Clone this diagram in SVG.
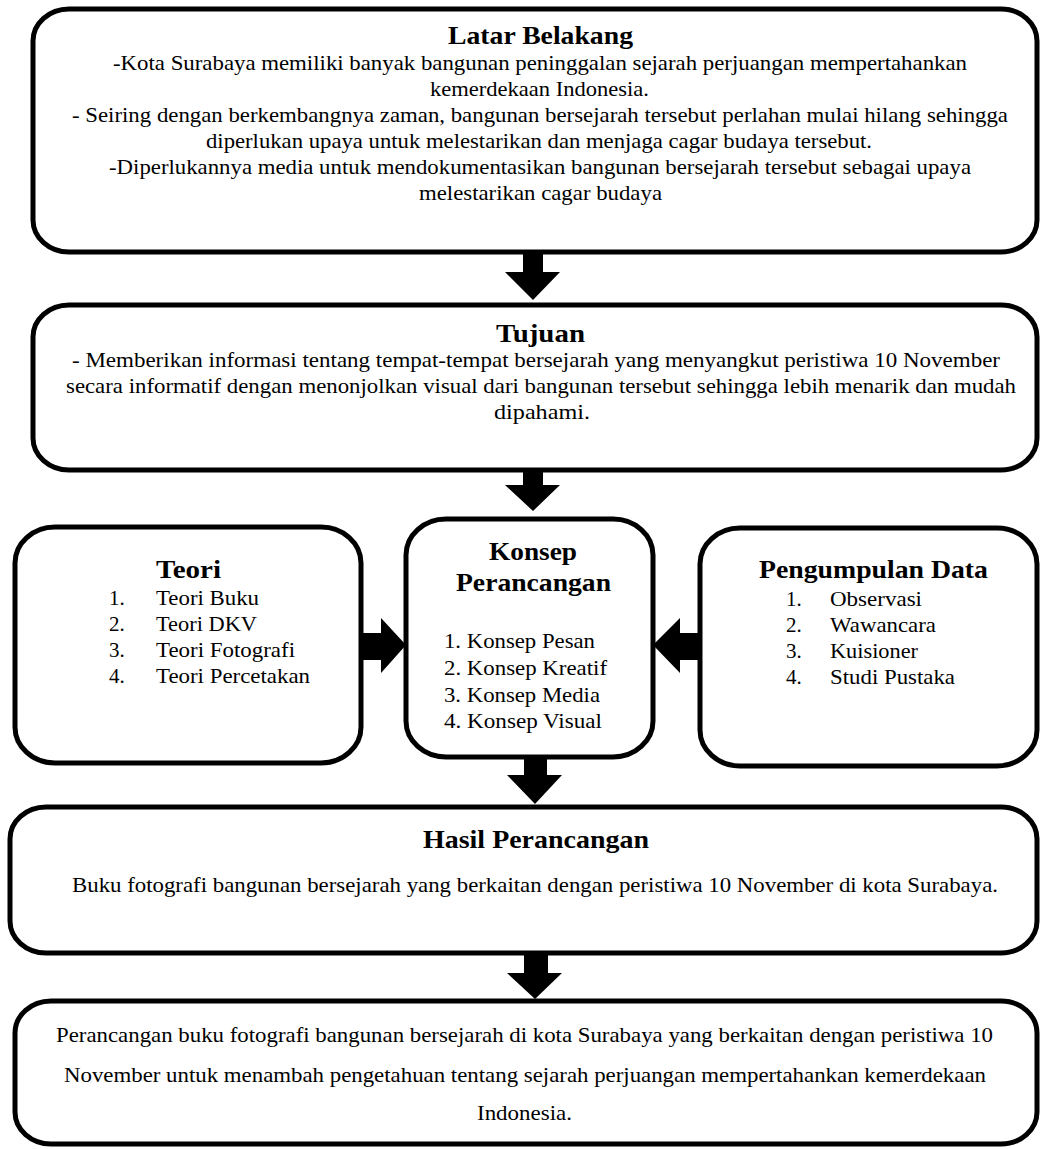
<svg xmlns="http://www.w3.org/2000/svg" width="1040" height="1149" viewBox="0 0 1040 1149">
<style>
.box{fill:#fff;stroke:#000;stroke-width:5}
.t{font-family:"Liberation Serif","Times New Roman",serif;font-size:21px;fill:#000}
.h{font-family:"Liberation Serif","Times New Roman",serif;font-size:26px;font-weight:bold;fill:#000}
.arr{fill:#000}
</style>
<rect width="1040" height="1149" fill="#fff"/>
<g id="latar">
<rect class="box" x="33" y="9" width="1004" height="243" rx="36" ry="32"/>
<text class="h" x="448" y="44" textLength="185" lengthAdjust="spacingAndGlyphs">Latar Belakang</text>
<text class="t" x="113" y="70" textLength="854" lengthAdjust="spacingAndGlyphs">-Kota Surabaya memiliki banyak bangunan peninggalan sejarah perjuangan mempertahankan</text>
<text class="t" x="430" y="96" textLength="219" lengthAdjust="spacingAndGlyphs">kemerdekaan Indonesia.</text>
<text class="t" x="72" y="122" textLength="936" lengthAdjust="spacingAndGlyphs">- Seiring dengan berkembangnya zaman, bangunan bersejarah tersebut perlahan mulai hilang sehingga</text>
<text class="t" x="206" y="148" textLength="666" lengthAdjust="spacingAndGlyphs">diperlukan upaya untuk melestarikan dan menjaga cagar budaya tersebut.</text>
<text class="t" x="109" y="174" textLength="862" lengthAdjust="spacingAndGlyphs">-Diperlukannya media untuk mendokumentasikan bangunan bersejarah tersebut sebagai upaya</text>
<text class="t" x="419" y="200" textLength="243" lengthAdjust="spacingAndGlyphs">melestarikan cagar budaya</text>
</g>
<g id="tujuan">
<rect class="box" x="33" y="305" width="1004" height="165" rx="36" ry="32"/>
<text class="h" x="496" y="342" textLength="89" lengthAdjust="spacingAndGlyphs">Tujuan</text>
<text class="t" x="72" y="367" textLength="928" lengthAdjust="spacingAndGlyphs">- Memberikan informasi tentang tempat-tempat bersejarah yang menyangkut peristiwa 10 November</text>
<text class="t" x="66" y="393" textLength="950" lengthAdjust="spacingAndGlyphs">secara informatif dengan menonjolkan visual dari bangunan tersebut sehingga lebih menarik dan mudah</text>
<text class="t" x="494" y="419" textLength="96" lengthAdjust="spacingAndGlyphs">dipahami.</text>
</g>
<g id="teori">
<rect class="box" x="15" y="527" width="346" height="236" rx="40" ry="36"/>
<text class="h" x="156" y="578" textLength="65" lengthAdjust="spacingAndGlyphs">Teori</text>
<text class="t" x="109" y="605">1.</text><text class="t" x="156" y="605" textLength="103" lengthAdjust="spacingAndGlyphs">Teori Buku</text>
<text class="t" x="109" y="631">2.</text><text class="t" x="156" y="631" textLength="101" lengthAdjust="spacingAndGlyphs">Teori DKV</text>
<text class="t" x="109" y="657">3.</text><text class="t" x="156" y="657" textLength="139" lengthAdjust="spacingAndGlyphs">Teori Fotografi</text>
<text class="t" x="109" y="683">4.</text><text class="t" x="156" y="683" textLength="154" lengthAdjust="spacingAndGlyphs">Teori Percetakan</text>
</g>
<g id="konsep">
<rect class="box" x="406" y="519" width="247" height="238" rx="40" ry="36"/>
<text class="h" x="489" y="560" textLength="88" lengthAdjust="spacingAndGlyphs">Konsep</text>
<text class="h" x="456" y="591" textLength="155" lengthAdjust="spacingAndGlyphs">Perancangan</text>
<text class="t" x="444" y="648" textLength="151" lengthAdjust="spacingAndGlyphs">1. Konsep Pesan</text>
<text class="t" x="444" y="675" textLength="163" lengthAdjust="spacingAndGlyphs">2. Konsep Kreatif</text>
<text class="t" x="444" y="702" textLength="156" lengthAdjust="spacingAndGlyphs">3. Konsep Media</text>
<text class="t" x="444" y="728" textLength="158" lengthAdjust="spacingAndGlyphs">4. Konsep Visual</text>
</g>
<g id="pengumpulan">
<rect class="box" x="700" y="528" width="337" height="238" rx="40" ry="36"/>
<text class="h" x="759" y="578" textLength="229" lengthAdjust="spacingAndGlyphs">Pengumpulan Data</text>
<text class="t" x="786" y="606">1.</text><text class="t" x="830" y="606" textLength="92" lengthAdjust="spacingAndGlyphs">Observasi</text>
<text class="t" x="786" y="632">2.</text><text class="t" x="830" y="632" textLength="106" lengthAdjust="spacingAndGlyphs">Wawancara</text>
<text class="t" x="786" y="658">3.</text><text class="t" x="830" y="658" textLength="88" lengthAdjust="spacingAndGlyphs">Kuisioner</text>
<text class="t" x="786" y="684">4.</text><text class="t" x="830" y="684" textLength="125" lengthAdjust="spacingAndGlyphs">Studi Pustaka</text>
</g>
<g id="hasil">
<rect class="box" x="10" y="807" width="1027" height="146" rx="36" ry="32"/>
<text class="h" x="423" y="848" textLength="226" lengthAdjust="spacingAndGlyphs">Hasil Perancangan</text>
<text class="t" x="72" y="892" textLength="926" lengthAdjust="spacingAndGlyphs">Buku fotografi bangunan bersejarah yang berkaitan dengan peristiwa 10 November di kota Surabaya.</text>
</g>
<g id="kesimpulan">
<rect class="box" x="15" y="1001" width="1022" height="143" rx="36" ry="32"/>
<text class="t" x="56" y="1042" textLength="937" lengthAdjust="spacingAndGlyphs">Perancangan buku fotografi bangunan bersejarah di kota Surabaya yang berkaitan dengan peristiwa 10</text>
<text class="t" x="64" y="1082" textLength="922" lengthAdjust="spacingAndGlyphs">November untuk menambah pengetahuan tentang sejarah perjuangan mempertahankan kemerdekaan</text>
<text class="t" x="477" y="1120" textLength="95" lengthAdjust="spacingAndGlyphs">Indonesia.</text>
</g>
<g id="connectors">
<polygon class="arr" points="523,252 543,252 543,272 560,272 533,300 505,272 523,272"/>
<polygon class="arr" points="523,470 543,470 543,485 560,485 533,511 505,485 523,485"/>
<polygon class="arr" points="361,633 381,633 381,618 406,645 381,673 381,660 361,660"/>
<polygon class="arr" points="700,633 680,633 680,618 653,645 680,673 680,660 700,660"/>
<polygon class="arr" points="524,757 547,757 547,775 562,775 535,804 507,775 524,775"/>
<polygon class="arr" points="524,953 548,953 548,973 562,973 535,999 507,973 524,973"/>
</g>
</svg>
